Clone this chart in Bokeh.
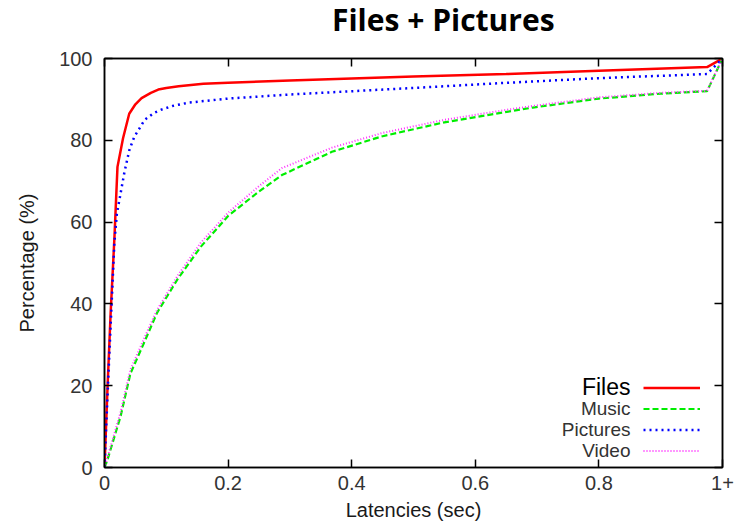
from bokeh.plotting import figure
from bokeh.layouts import column
from bokeh.models import LinearAxis, Legend, LegendItem, Label, FixedTicker, Range1d, Div
from bokeh.embed import file_html
from bokeh.resources import INLINE

# ---- data ----
files_x = [0, 0.005, 0.01, 0.016, 0.021, 0.03, 0.04, 0.05, 0.06, 0.075, 0.087, 0.1, 0.12, 0.16, 0.2, 0.3, 0.4, 0.5, 0.65, 0.8, 0.975, 1.0]
files_y = [0, 20, 38, 56, 73.5, 80.5, 86.5, 88.8, 90.3, 91.6, 92.4, 92.8, 93.2, 93.8, 94.1, 94.6, 95.1, 95.6, 96.2, 97.0, 97.9, 100]

pics_x = [0, 0.005, 0.01, 0.016, 0.02, 0.032, 0.04, 0.048, 0.065, 0.08, 0.092, 0.11, 0.136, 0.2, 0.3, 0.4, 0.5, 0.644, 0.8, 0.975, 1.0]
pics_y = [0, 18, 35, 55, 62, 72, 77.5, 80.8, 85, 86.7, 87.5, 88.4, 89.2, 90.2, 91.2, 92.0, 92.8, 94.0, 95.2, 96.2, 100]

music_x = [0, 0.004, 0.026, 0.042, 0.064, 0.085, 0.118, 0.156, 0.2, 0.25, 0.287, 0.368, 0.45, 0.55, 0.644, 0.693, 0.8, 0.9, 0.975, 1.0]
music_y = [0, 1.5, 12.5, 23, 30.5, 37.8, 46, 54, 61.5, 67.5, 71.5, 77.2, 81.0, 84.4, 86.8, 88.0, 90.2, 91.4, 92.0, 100]

video_x = [0, 0.004, 0.026, 0.042, 0.064, 0.085, 0.118, 0.156, 0.2, 0.25, 0.287, 0.368, 0.45, 0.55, 0.644, 0.693, 0.8, 0.9, 0.975, 1.0]
video_y = [0, 2, 13.5, 24, 31.5, 38.5, 46.8, 55, 62.3, 68.8, 73.2, 78.2, 81.8, 85.0, 87.3, 88.4, 90.5, 91.6, 92.1, 100]

x_ticks = [0, 0.2, 0.4, 0.6, 0.8, 1.0]
x_tick_labels = ["0", "0.2", "0.4", "0.6", "0.8", "1+"]
y_ticks = [0, 20, 40, 60, 80, 100]

series_names = ["Files", "Music", "Pictures", "Video"]
title_text = "Files + Pictures"
x_label = "Latencies (sec)"
y_label = "Percentage (%)"

TICK_FONT = "Liberation Sans"

title_div = Div(
    text=('<div style="padding-left:332px;font-family:\'Open Sans\';font-weight:bold;'
          'font-size:30px;line-height:40px;color:#000000;white-space:nowrap;margin:0">'
          + title_text + '</div>'),
    width=752, height=40, margin=0)

p = figure(title=None, output_backend="svg", toolbar_location=None,
           frame_width=618, frame_height=409,
           x_range=Range1d(0, 1), y_range=Range1d(0, 100),
           min_border_left=104, min_border_right=30, min_border_top=18, min_border_bottom=10,
           margin=0)

p.grid.visible = False
p.outline_line_color = "#000000"
p.outline_line_width = 1.5
p.outline_line_alpha = 1

for ax in (p.xaxis[0], p.yaxis[0]):
    ax.major_tick_in = 8
    ax.major_tick_out = 0
    ax.minor_tick_in = 0
    ax.minor_tick_out = 0
    ax.axis_line_color = "#000000"
    ax.axis_line_width = 1.5
    ax.major_tick_line_color = "#000000"
    ax.major_tick_line_width = 1.5
    ax.major_label_text_font = TICK_FONT
    ax.major_label_text_font_size = "20px"
    ax.major_label_text_color = "#333333"
    ax.axis_label_text_font = TICK_FONT
    ax.axis_label_text_font_size = "20px"
    ax.axis_label_text_font_style = "normal"
    ax.axis_label_text_color = "#1a1a1a"

p.xaxis[0].ticker = FixedTicker(ticks=x_ticks)
p.xaxis[0].major_label_overrides = {t: l for t, l in zip(x_ticks, x_tick_labels)}
p.xaxis[0].axis_label = x_label
p.xaxis[0].major_label_standoff = 8
p.xaxis[0].axis_label_standoff = 6

p.yaxis[0].ticker = FixedTicker(ticks=y_ticks)
p.yaxis[0].axis_label = y_label
p.yaxis[0].major_label_standoff = 12
p.yaxis[0].axis_label_standoff = 18

# mirror ticks on top and right
top_ax = LinearAxis(ticker=FixedTicker(ticks=x_ticks))
right_ax = LinearAxis(ticker=FixedTicker(ticks=y_ticks))
for ax, ticks in ((top_ax, x_ticks), (right_ax, y_ticks)):
    ax.major_tick_in = 8
    ax.major_tick_out = 0
    ax.minor_tick_in = 0
    ax.minor_tick_out = 0
    ax.axis_line_color = "#000000"
    ax.axis_line_width = 1.5
    ax.major_tick_line_color = "#000000"
    ax.major_tick_line_width = 1.5
    ax.major_label_overrides = {t: "" for t in ticks}
    ax.major_label_standoff = 0
    ax.major_label_text_font_size = "1px"
p.add_layout(top_ax, "above")
p.add_layout(right_ax, "right")

r_files = p.line(files_x, files_y, line_color="#ff0000", line_width=2.5)
r_music = p.line(music_x, music_y, line_color="#00ee00", line_width=2.2, line_dash="6 3")
r_pics = p.line(pics_x, pics_y, line_color="#0000ff", line_width=2.5, line_dash="2 4")
r_video = p.line(video_x, video_y, line_color="#ff33ff", line_width=2.0, line_dash="1 2")

renderers = [r_files, r_music, r_pics, r_video]
legend = Legend(items=[LegendItem(label=" ", renderers=[r]) for r in renderers],
                location=(539, 6), glyph_width=57, glyph_height=21, spacing=0,
                padding=0, margin=0, label_width=0, label_standoff=0,
                label_text_font_size="1px", border_line_alpha=0,
                background_fill_alpha=0)
p.add_layout(legend, "center")

label_sizes = ["23px", "19px", "19px", "19px"]
label_colors = ["#000000", "#333333", "#333333", "#333333"]
row_y = [80.5, 59.2, 38.2, 17.2]
for name, sz, col, yy in zip(series_names, label_sizes, label_colors, row_y):
    p.add_layout(Label(x=526, y=yy, x_units="screen", y_units="screen", text=name,
                       text_align="right", text_baseline="middle",
                       text_font=TICK_FONT, text_font_size=sz, text_color=col))

layout = column(title_div, p, spacing=0)
open("out.html", "w").write(file_html(layout, INLINE))
